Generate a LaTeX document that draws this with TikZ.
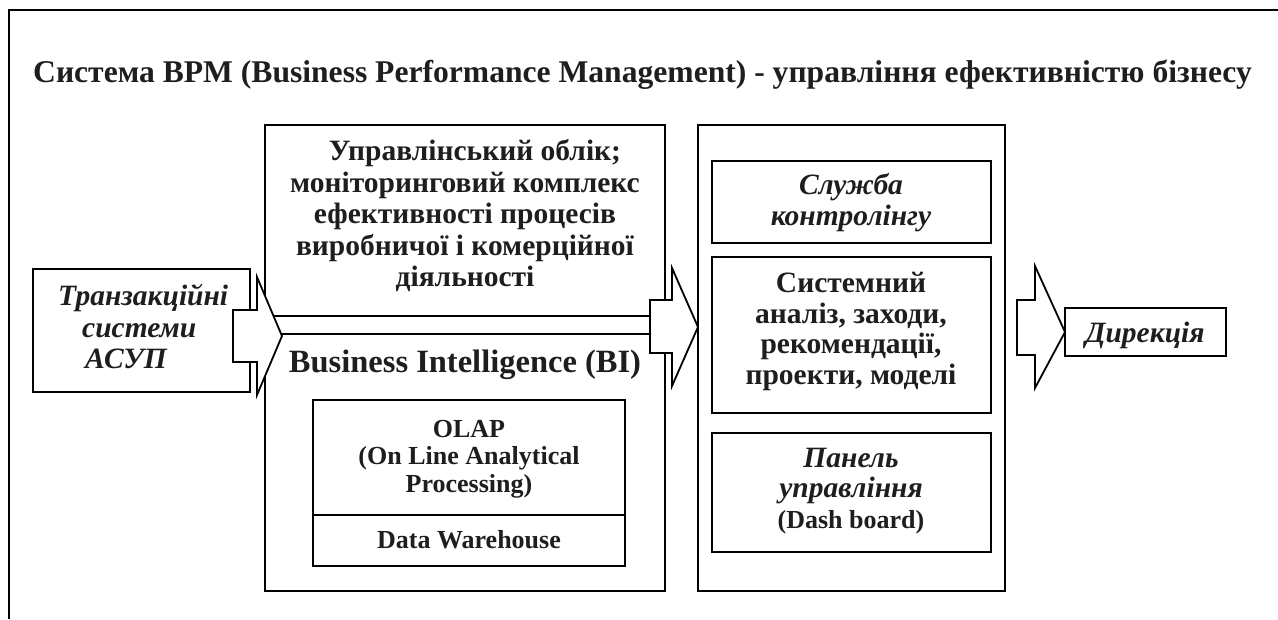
\documentclass[tikz,border=0pt]{standalone}
\usepackage{fontspec}
\setmainfont{Liberation Serif}
\definecolor{ink}{RGB}{30,30,30}
\begin{document}
\begin{tikzpicture}[x=1pt,y=-1pt,
  frame/.style={draw=black, line width=1.8pt, fill=white, inner sep=0pt, outer sep=0pt, anchor=north west},
  blockarrow/.style={draw=black, line width=1.8pt, fill=white, line join=miter},
  tb/.style={inner sep=0pt, anchor=base, text=ink, font=\bfseries\fontsize{29.5}{31}\selectfont},
  ti/.style={tb, font=\bfseries\itshape\fontsize{29.5}{31}\selectfont},
  ts/.style={tb, font=\bfseries\fontsize{26}{28}\selectfont},
  tl/.style={tb, font=\bfseries\fontsize{31.6}{34}\selectfont}]
\useasboundingbox (0,0) rectangle (1278,619);
% outer frame (only top and left visible)
\coordinate (fbl) at (9,619);
\coordinate (ftl) at (9,10);
\coordinate (ftr) at (1278,10);
\draw[line width=2pt] (fbl) -- (ftl) -- (ftr);
% title
\node[tl, anchor=base west] (title) at (33,82) {Система BPM (Business Performance Management) - управління ефективністю бізнесу};
% boxes
\node[frame, minimum width=217pt, minimum height=123pt] (trans) at (33,269) {};
\node[frame, minimum width=400pt, minimum height=191pt] (mgmt) at (265,125) {};
\node[frame, minimum width=400pt, minimum height=257pt] (bi) at (265,334) {};
\node[frame, minimum width=312pt, minimum height=115pt] (olap) at (313,400) {};
\node[frame, minimum width=312pt, minimum height=51pt] (dw) at (313,515) {};
\node[frame, minimum width=307pt, minimum height=466pt] (right) at (698,125) {};
\node[frame, minimum width=279pt, minimum height=82pt] (ctrl) at (712,161) {};
\node[frame, minimum width=279pt, minimum height=156pt] (sys) at (712,257) {};
\node[frame, minimum width=279pt, minimum height=119pt] (panel) at (712,433) {};
\node[frame, minimum width=161pt, minimum height=48pt] (dir) at (1065,308) {};
% block arrows
\draw[blockarrow] (233,310) -- (257,310) -- (257,277) -- (282,336) -- (257,395) -- (257,362) -- (233,362) -- cycle;
\draw[blockarrow] (650,300) -- (672,300) -- (672,268) -- (right.west |- 0,327) -- (672,386) -- (672,353) -- (650,353) -- cycle;
\draw[blockarrow] (1017,300) -- (1035,300) -- (1035,266) -- (dir.west) -- (1035,388) -- (1035,355) -- (1017,355) -- cycle;
% texts: left box
\node[ti, anchor=base west] (t1) at (58,305) {Транзакційні};
\node[ti, anchor=base west] (t2) at (82,337) {системи};
\node[ti, anchor=base west] (t3) at (85,368) {АСУП};
% middle upper
\node[tb] (m1) at (475,160) {Управлінський облік;};
\node[tb] (m2) at (465,192) {моніторинговий комплекс};
\node[tb] (m3) at (465,223.5) {ефективності процесів};
\node[tb] (m4) at (465,255) {виробничої і комерційної};
\node[tb] (m5) at (465,286.5) {діяльності};
% BI
\node[tl, font=\bfseries\fontsize{32.5}{34}\selectfont] (b1) at (465,372) {Business Intelligence (BI)};
\node[ts] (o1) at (469,437) {OLAP};
\node[ts] (o2) at (469,464) {(On Line Analytical};
\node[ts] (o3) at (469,492) {Processing)};
\node[ts] (d1) at (469,548) {Data Warehouse};
% right column
\node[ti] (c1) at (851,194) {Служба};
\node[ti] (c2) at (851,225) {контролінгу};
\node[tb] (s1) at (851,292) {Системний};
\node[tb] (s2) at (851,323) {аналіз, заходи,};
\node[tb] (s3) at (851,353) {рекомендації,};
\node[tb] (s4) at (851,384) {проекти, моделі};
\node[ti] (p1) at (851,467) {Панель};
\node[ti] (p2) at (851,497) {управління};
\node[ts] (p3) at (851,528) {(Dash board)};
\node[ti] (dt) at (1145,342) {Дирекція};
\end{tikzpicture}
\end{document}
